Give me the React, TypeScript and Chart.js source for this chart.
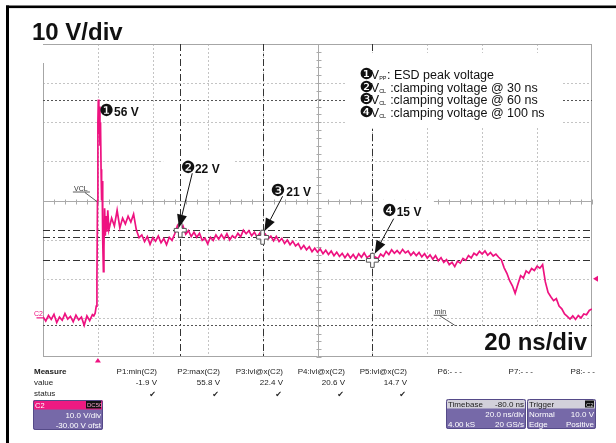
import React, { useEffect, useRef } from "react";
import { Chart, registerables } from "chart.js";

Chart.register(...registerables);

// ---------- scope settings ----------
const timeRangeNs = [-20, 180];
const voltRange = [-10, 70];
const timeDivsNs = [-20, 0, 20, 40, 60, 80, 100, 120, 140, 160, 180];
const voltDivs = [-10, 0, 10, 20, 30, 40, 50, 60, 70];
const centerTimeNs = 80;
const centerVolt = 30;

// ---------- C2 trace (1 ns grid before/after the spike, finer inside it) ----------
const preTriggerV = [0.3, -0.8, 0.6, -0.4, 0.9, -1.2, 0.2, -0.6, 1.1, -0.3, 0.4, -1.0, 0.7, -0.5, 0.2, -1.9, 0.5, -0.7, 0.8];
const spikeNs = [-1.5, -1, -0.6, -0.35, -0.15, 0, 0.15, 0.35, 0.55, 0.75, 0.95, 1.15, 1.35, 1.55, 1.75, 2.0, 2.2, 2.45, 2.7, 3.0, 3.3, 3.6];
const spikeV = [0.5, 1.2, 3, 10, 30, 50, 55.8, 47, 54, 44, 50, 38, 30, 35, 20, 11.8, 18, 28, 21, 26, 22, 27.5];
const settleV = [
  22.5, 25.5, 23.5, 27.5, 23.0, 25.5, 24.0, 26.0, 24.5, 26.5,
  22.5, 20.5, 21.2, 19.5, 20.8, 18.8, 20.5, 19.6, 20.9, 19.2,
  20.3, 18.7, 20.6, 19.8, 21.5, 23.6, 22.4, 23.5, 21.4, 22.3,
  20.8, 21.9, 20.6, 21.6, 19.8, 20.4, 18.9, 20.6, 19.8, 21.2,
  20.1, 21.3, 20.2, 21.5, 19.9, 21.0, 20.4, 21.6, 20.7, 22.4,
  21.5, 22.3, 21.0, 21.9, 20.6, 21.7, 20.6, 21.4, 20.2, 20.9,
  19.7, 20.8, 19.5, 20.3, 19.0, 19.9, 18.7, 19.6, 18.4, 19.0,
  17.6, 18.5, 17.4, 18.2, 16.9, 17.8, 16.8, 17.6, 16.4, 17.3,
  16.2, 17.1, 15.9, 16.8, 15.7, 16.5, 15.4, 16.4, 15.3, 16.2,
  15.1, 16.4, 15.5, 16.6, 15.4, 15.9, 14.7, 15.6, 15.1, 16.3,
  15.7, 17.0, 16.2, 17.4, 16.5, 17.2, 16.4, 17.5, 16.6, 17.1,
  16.0, 16.8, 15.9, 16.7, 15.6, 16.4, 15.3, 16.1, 15.0, 15.9,
  14.6, 15.4, 14.2, 14.9, 13.6, 14.2, 13.1, 14.5, 14.0, 15.2,
  14.7, 15.9, 15.3, 16.5, 16.0, 17.0, 16.3, 17.1, 16.0, 16.7,
  15.8, 16.3, 15.5, 14.8, 12.8, 11.4, 9.5, 8.2, 6.3, 8.6,
  10.8, 10.2, 12.0, 11.4, 12.6, 12.1, 13.2, 12.7, 13.6, 9.2,
  6.5, 5.4, 4.4, 4.9, 3.0, 2.3, 1.0, 0.4, -0.3, 0.5,
  -0.4, 0.6, 0.0, 1.0, 0.8, 1.9, 2.3,
];
const preTriggerStartNs = -20;
const settleStartNs = 4;
const traceNs = [
  ...preTriggerV.map((_, i) => preTriggerStartNs + i),
  ...spikeNs,
  ...settleV.map((_, i) => settleStartNs + i),
];
const traceV = [...preTriggerV, ...spikeV, ...settleV];

// ---------- cursors / measurements ----------
const peakNs = 0.15;
const peakV = 55.8;
const minV = -1.9;
const triggerLevelV = 10;
const triggerNs = 0;
const cursorTimesNs = [30, 60, 100];
const cursorLevelsV = [22.4, 20.6, 14.7];
const cursorMarks = ["\u2777", "\u2778", "\u2779"];
const cursorTexts = ["22 V", "21 V", "15 V"];
const peakMark = "\u2776";
const peakText = "56 V";
const vclTipNs = 0;
const minTipNs = 130;

const legendMarks = ["\u2776", "\u2777", "\u2778", "\u2779"];
const legendSubs = ["PP", "CL", "CL", "CL"];
const legendTexts = [": ESD peak voltage", " :clamping voltage @ 30 ns", " :clamping voltage @ 60 ns", " :clamping voltage @ 100 ns"];

const measureHeaders = ["P1:min(C2)", "P2:max(C2)", "P3:lvl@x(C2)", "P4:lvl@x(C2)", "P5:lvl@x(C2)", "P6:- - -", "P7:- - -", "P8:- - -"];
const measureValues = ["-1.9 V", "55.8 V", "22.4 V", "20.6 V", "14.7 V", "", "", ""];
const measureOk = [true, true, true, true, true, false, false, false];

// ---------- layout / style (not data) ----------
const FONT = '"Liberation Sans", Arial, "DejaVu Sans", sans-serif';
const SYM = '"DejaVu Sans", sans-serif';
const TRACE = "#ee1280";
const PURPLE = "#7669a8";
const measureCols = [157, 220, 283, 345, 407, 462, 533, 595];
const callouts = [
  { cdx: 0.5, tdx: 14.7, bdy: -57.5, fdx: 12, fdy: -57, tipdx: -1.3, tipdy: -2.6, box: [-17, -80, 70, 28] },
  { cdx: 8, tdx: 23.7, bdy: -41, fdx: 20, fdy: -41, tipdx: 1.7, tipdy: -6, box: null },
  { cdx: 9.5, tdx: 24.3, bdy: -44.2, fdx: 21.3, fdy: -41.7, tipdx: 2.3, tipdy: -6.7, box: [5.5, -61, 56, 20] },
];

function ln(ctx: any, x1: number, y1: number, x2: number, y2: number) {
  ctx.beginPath();
  ctx.moveTo(x1, y1);
  ctx.lineTo(x2, y2);
  ctx.stroke();
}
const h = (v: number) => Math.round(v) + 0.5;

function cross(ctx: any, cx: number, cy: number) {
  const a = 6, b = 1.8, v = 7;
  ctx.beginPath();
  ctx.moveTo(cx - b, cy - v); ctx.lineTo(cx + b, cy - v); ctx.lineTo(cx + b, cy - b);
  ctx.lineTo(cx + a, cy - b); ctx.lineTo(cx + a, cy + b); ctx.lineTo(cx + b, cy + b);
  ctx.lineTo(cx + b, cy + v); ctx.lineTo(cx - b, cy + v); ctx.lineTo(cx - b, cy + b);
  ctx.lineTo(cx - a, cy + b); ctx.lineTo(cx - a, cy - b); ctx.lineTo(cx - b, cy - b);
  ctx.closePath();
  ctx.fillStyle = "#fff";
  ctx.fill();
  ctx.strokeStyle = "#555";
  ctx.lineWidth = 1;
  ctx.setLineDash([]);
  ctx.stroke();
}

function arrow(ctx: any, sx: number, sy: number, tx: number, ty: number) {
  const ang = Math.atan2(ty - sy, tx - sx);
  const len = 13, hw = 5;
  const bx = tx - len * Math.cos(ang), by = ty - len * Math.sin(ang);
  ctx.strokeStyle = "#111";
  ctx.lineWidth = 1;
  ctx.setLineDash([]);
  ln(ctx, sx, sy, bx, by);
  ctx.beginPath();
  ctx.moveTo(tx, ty);
  ctx.lineTo(bx + hw * Math.sin(ang), by - hw * Math.cos(ang));
  ctx.lineTo(bx - hw * Math.sin(ang), by + hw * Math.cos(ang));
  ctx.closePath();
  ctx.fillStyle = "#111";
  ctx.fill();
}

function panel(ctx: any, x: number, y: number, w: number, hh: number, headH: number, headColor: string) {
  ctx.save();
  ctx.beginPath();
  ctx.roundRect(x, y, w, hh, 2);
  ctx.fillStyle = PURPLE;
  ctx.fill();
  ctx.clip();
  ctx.fillStyle = headColor;
  ctx.fillRect(x, y, w, headH);
  ctx.restore();
  ctx.beginPath();
  ctx.roundRect(x + 0.5, y + 0.5, w - 1, hh - 1, 2);
  ctx.strokeStyle = "#554a88";
  ctx.lineWidth = 1;
  ctx.stroke();
}

const scopePlugin = {
  id: "scope",
  beforeDatasetsDraw(chart: any) {
    const { ctx, chartArea: a, scales } = chart;
    const xs = scales.x, ys = scales.y;
    const L = a.left, R = a.right, T = a.top, B = a.bottom;
    ctx.save();
    ctx.lineWidth = 1;
    // dotted grid
    ctx.strokeStyle = "#c4c4c4";
    ctx.setLineDash([2, 2]);
    timeDivsNs.slice(1, -1).forEach((t) => {
      if (t === centerTimeNs) return;
      const X = h(xs.getPixelForValue(t));
      ln(ctx, X, T, X, B);
    });
    voltDivs.slice(1, -1).forEach((v) => {
      if (v === centerVolt) return;
      const Y = h(ys.getPixelForValue(v));
      ln(ctx, L, Y, R, Y);
    });
    ctx.setLineDash([]);
    // centre axes with minor ticks
    ctx.strokeStyle = "#aaaaaa";
    const CX = h(xs.getPixelForValue(centerTimeNs));
    const CY = h(ys.getPixelForValue(centerVolt));
    ln(ctx, CX, T, CX, B);
    ln(ctx, L, CY, R, CY);
    for (let t = timeRangeNs[0]; t <= timeRangeNs[1]; t += 4) {
      const X = h(xs.getPixelForValue(t));
      ln(ctx, X, CY - 2, X, CY + 3);
    }
    for (let v = voltRange[0]; v <= voltRange[1]; v += 2) {
      const Y = h(ys.getPixelForValue(v));
      ln(ctx, CX - 2, Y, CX + 3, Y);
    }
    // frame
    ctx.strokeStyle = "#a6a6a6";
    ln(ctx, L, h(T), R, h(T));
    ln(ctx, h(R) - 1, T, h(R) - 1, B);
    ln(ctx, L, h(B) - 1, R, h(B) - 1);
    ln(ctx, h(L), T + 19, h(L), B);

    // callout boxes
    ctx.fillStyle = "#fff";
    cursorTimesNs.forEach((t, i) => {
      const c = callouts[i];
      if (!c.box) return;
      const cx = xs.getPixelForValue(t), cy = ys.getPixelForValue(cursorLevelsV[i]);
      ctx.fillRect(cx + c.box[0], cy + c.box[1], c.box[2], c.box[3]);
    });

    // cursor lines
    ctx.strokeStyle = "#333";
    ctx.setLineDash([7, 3, 2, 3]);
    cursorTimesNs.forEach((t) => {
      const X = h(xs.getPixelForValue(t));
      ln(ctx, X, T, X, B);
    });
    cursorLevelsV.forEach((v) => {
      const Y = h(ys.getPixelForValue(v));
      ln(ctx, L, Y, R, Y);
    });
    // max / min dotted
    ctx.strokeStyle = "#555";
    ctx.setLineDash([2, 2]);
    [peakV, minV].forEach((v) => {
      const Y = h(ys.getPixelForValue(v));
      ln(ctx, L, Y, R, Y);
    });
    ctx.setLineDash([]);
    // legend & scale boxes
    ctx.fillStyle = "#fff";
    ctx.fillRect(345, 53, 218, 75);
    ctx.fillRect(478, 328, R - 479, B - 329);
    ctx.restore();
  },
  afterDatasetsDraw(chart: any) {
    const { ctx, chartArea: a, scales } = chart;
    const xs = scales.x, ys = scales.y;
    const L = a.left, R = a.right, B = a.bottom;
    ctx.save();
    ctx.textBaseline = "alphabetic";
    // cursor crosses, arrows, labels
    cursorTimesNs.forEach((t, i) => {
      const c = callouts[i];
      const cx = xs.getPixelForValue(t), cy = ys.getPixelForValue(cursorLevelsV[i]);
      cross(ctx, cx, cy);
      arrow(ctx, cx + c.fdx, cy + c.fdy, cx + c.tipdx, cy + c.tipdy);
      ctx.fillStyle = "#111";
      ctx.textAlign = "left";
      ctx.font = `16.5px ${SYM}`;
      ctx.fillText(cursorMarks[i], cx + c.cdx, cy + c.bdy);
      ctx.font = `bold 12px ${FONT}`;
      ctx.fillText(cursorTexts[i], cx + c.tdx, cy + c.bdy);
    });
    // peak label
    const pX = xs.getPixelForValue(peakNs), pY = ys.getPixelForValue(peakV);
    ctx.fillStyle = "#111";
    ctx.font = `16.5px ${SYM}`;
    ctx.fillText(peakMark, pX + 1, pY + 16.8);
    ctx.font = `bold 12px ${FONT}`;
    ctx.fillText(peakText, pX + 15.7, pY + 16.6);

    // legend
    legendMarks.forEach((m, i) => {
      let x = 359.5;
      const y = 79 + i * 12.5;
      ctx.fillStyle = "#111";
      ctx.font = `15.5px ${SYM}`;
      ctx.fillText(m, x, y + 0.3);
      x += 11.3;
      ctx.font = `12.5px ${FONT}`;
      ctx.fillText("V", x, y);
      x += ctx.measureText("V").width;
      ctx.font = `5.5px ${FONT}`;
      ctx.fillText(legendSubs[i], x, y + 1);
      x += ctx.measureText(legendSubs[i]).width + 0.5;
      ctx.font = `12.5px ${FONT}`;
      ctx.fillText(legendTexts[i], x, y);
    });

    // VCL marker
    const vx = xs.getPixelForValue(vclTipNs), vy = ys.getPixelForValue(centerVolt);
    ctx.fillStyle = "#333";
    ctx.strokeStyle = "#333";
    ctx.lineWidth = 0.8;
    ctx.font = `7px ${FONT}`;
    ctx.fillText("VCL", vx - 23.9, vy - 10);
    ln(ctx, vx - 25, vy - 8.5, vx - 8, vy - 8.5);
    ln(ctx, vx - 13, vy - 8, vx - 1, vy + 1);
    // min marker
    const mx = xs.getPixelForValue(minTipNs), my = ys.getPixelForValue(minV);
    ctx.fillText("min", mx - 20, my - 11.6);
    ln(ctx, mx - 21, my - 10, mx - 8, my - 10);
    ln(ctx, mx - 15, my - 9.6, mx, my);

    // channel marker
    const zy = ys.getPixelForValue(0);
    ctx.fillStyle = TRACE;
    ctx.strokeStyle = TRACE;
    ctx.lineWidth = 1.2;
    ctx.font = `7px ${FONT}`;
    ctx.fillText("C2", 34, zy - 2);
    ln(ctx, 36.5, zy, L, zy);
    // trigger level triangle (right)
    const ty = ys.getPixelForValue(triggerLevelV);
    ctx.beginPath();
    ctx.moveTo(R + 1, ty);
    ctx.lineTo(R + 6, ty - 3);
    ctx.lineTo(R + 6, ty + 3);
    ctx.closePath();
    ctx.fill();
    // trigger position triangle (bottom)
    const tx = xs.getPixelForValue(triggerNs);
    ctx.beginPath();
    ctx.moveTo(tx, B + 1);
    ctx.lineTo(tx - 3, B + 5.5);
    ctx.lineTo(tx + 3, B + 5.5);
    ctx.closePath();
    ctx.fill();

    // scale texts
    ctx.fillStyle = "#111";
    ctx.font = `bold 24px ${FONT}`;
    ctx.textAlign = "right";
    ctx.fillText("20 ns/div", 587, 349.5);
    ctx.textAlign = "left";
    ctx.fillText("10 V/div", 32, 39.5);

    // outer frame
    ctx.fillStyle = "#000";
    ctx.fillRect(6, 5.5, 610, 2.6);
    ctx.fillRect(6, 5.5, 3, 440);

    // measure table
    ctx.fillStyle = "#222";
    ctx.font = `bold 8px ${FONT}`;
    ctx.fillText("Measure", 34, 373.5);
    ctx.font = `8px ${FONT}`;
    ctx.fillText("value", 34, 384.5);
    ctx.fillText("status", 34, 395.5);
    ctx.textAlign = "right";
    measureHeaders.forEach((hd, i) => {
      const xr = measureCols[i];
      ctx.font = `8px ${FONT}`;
      ctx.fillText(hd, xr, 373.5);
      if (measureValues[i]) ctx.fillText(measureValues[i], xr, 384.5);
      if (measureOk[i]) {
        ctx.font = `8px ${SYM}`;
        ctx.fillText("\u2714", xr - 1, 396.5);
      }
    });

    // channel / timebase / trigger panels
    ctx.textAlign = "left";
    panel(ctx, 33, 400, 70, 30, 9.5, "#ee1a82");
    ctx.fillStyle = "#fff";
    ctx.font = `7.5px ${FONT}`;
    ctx.fillText("C2", 35, 407.5);
    ctx.fillStyle = "#111";
    ctx.fillRect(86, 401, 15, 7.5);
    ctx.fillStyle = "#f3a0c8";
    ctx.font = `6px ${FONT}`;
    ctx.fillText("DC50", 87, 407);
    ctx.fillStyle = "#fff";
    ctx.font = `8px ${FONT}`;
    ctx.textAlign = "right";
    ctx.fillText("10.0 V/div", 101, 418);
    ctx.fillText("-30.00 V ofst", 101, 427.5);

    panel(ctx, 446, 399, 80, 30, 9.5, "#d2d0da");
    ctx.fillStyle = "#222";
    ctx.textAlign = "left";
    ctx.fillText("Timebase", 448, 406.5);
    ctx.textAlign = "right";
    ctx.fillText("-80.0 ns", 524, 406.5);
    ctx.fillStyle = "#fff";
    ctx.fillText("20.0 ns/div", 524, 417);
    ctx.fillText("20 GS/s", 524, 427);
    ctx.textAlign = "left";
    ctx.fillText("4.00 kS", 448, 427);

    panel(ctx, 527, 399, 69, 30, 9.5, "#d2d0da");
    ctx.fillStyle = "#222";
    ctx.fillText("Trigger", 529, 406.5);
    ctx.fillStyle = "#111";
    ctx.fillRect(585, 400.5, 9, 7);
    ctx.fillStyle = "#ddd";
    ctx.font = `6px ${FONT}`;
    ctx.fillText("C2", 586, 406.5);
    ctx.font = `8px ${FONT}`;
    ctx.fillStyle = "#fff";
    ctx.fillText("Normal", 529, 417);
    ctx.fillText("Edge", 529, 427);
    ctx.textAlign = "right";
    ctx.fillText("10.0 V", 594, 417);
    ctx.fillText("Positive", 594, 427);
    ctx.restore();
  },
};

export default function App() {
  const ref = useRef<HTMLCanvasElement>(null);
  useEffect(() => {
    const chart = new Chart(ref.current as HTMLCanvasElement, {
      type: "line",
      data: {
        datasets: [
          {
            data: traceNs.map((t, i) => ({ x: t, y: traceV[i] })),
            borderColor: TRACE,
            borderWidth: 1.7,
            pointRadius: 0,
            tension: 0,
            fill: false,
          },
        ],
      },
      options: {
        responsive: false,
        animation: false,
        events: [],
        layout: { padding: { left: 43, top: 44, right: 24, bottom: 86 } },
        scales: {
          x: { type: "linear", min: timeRangeNs[0], max: timeRangeNs[1], display: false },
          y: { type: "linear", min: voltRange[0], max: voltRange[1], display: false },
        },
        plugins: { legend: { display: false }, tooltip: { enabled: false } },
      },
      plugins: [scopePlugin],
    } as any);
    return () => chart.destroy();
  }, []);
  return (
    <div style={{ position: "fixed", left: 0, top: 0, width: 616, height: 443, background: "#fff" }}>
      <canvas ref={ref} width={616} height={443} style={{ display: "block", width: 616, height: 443 }} />
    </div>
  );
}
